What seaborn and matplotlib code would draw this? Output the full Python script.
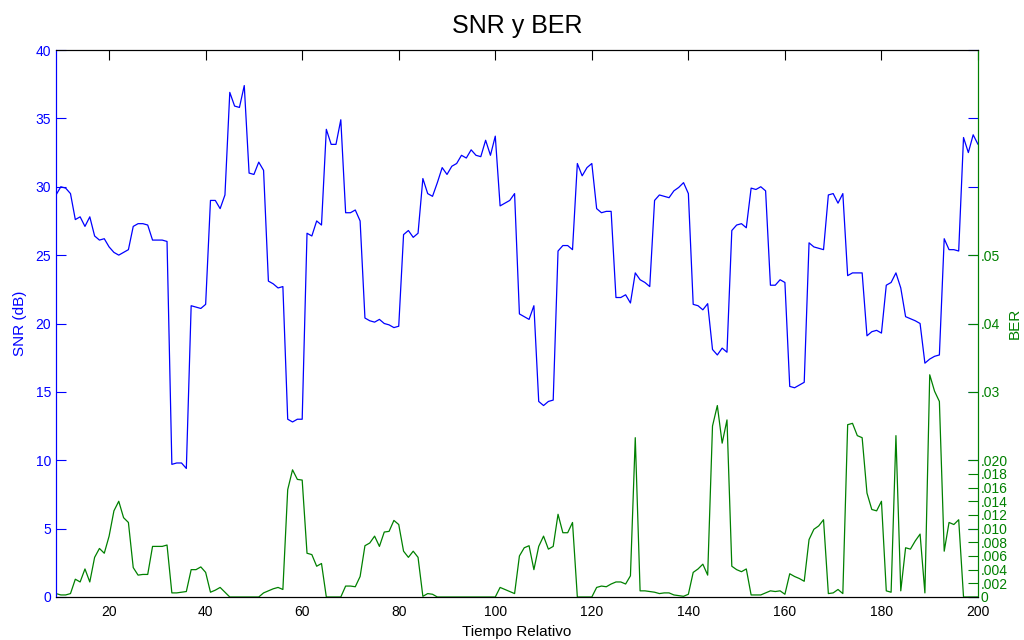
import seaborn as sns
import pandas as pd
import matplotlib
matplotlib.use('Agg')
import matplotlib.pyplot as plt
import numpy as np

# tiempo relativo (una muestra por unidad)
tiempo = list(range(9, 201))

snr_db = [
    29.4, 30.0, 29.9, 29.5, 27.6, 27.8, 27.1, 27.8, 26.4, 26.1, 26.2, 25.6,   # 9-20
    25.2, 25.0, 25.2, 25.4, 27.1, 27.3, 27.3, 27.2, 26.1, 26.1, 26.1, 26.0,   # 21-32
    9.7, 9.8, 9.8, 9.4, 21.3, 21.2, 21.1, 21.4, 29.0, 29.0, 28.4, 29.4,       # 33-44
    36.9, 35.9, 35.8, 37.4, 31.0, 30.9, 31.8, 31.2, 23.1, 22.9, 22.6, 22.7,   # 45-56
    13.0, 12.8, 13.0, 13.0, 26.6, 26.4, 27.5, 27.2, 34.2, 33.1, 33.1, 34.9,   # 57-68
    28.1, 28.1, 28.3, 27.5, 20.4, 20.2, 20.1, 20.3, 20.0, 19.9, 19.7, 19.8,   # 69-80
    26.5, 26.8, 26.3, 26.6, 30.6, 29.5, 29.3, 30.3, 31.4, 30.9, 31.5, 31.7,   # 81-92
    32.3, 32.1, 32.7, 32.3, 32.2, 33.4, 32.3, 33.7, 28.6, 28.8, 29.0, 29.5,   # 93-104
    20.7, 20.5, 20.3, 21.3, 14.3, 14.0, 14.3, 14.4, 25.3, 25.7, 25.7, 25.4,   # 105-116
    31.7, 30.8, 31.4, 31.7, 28.4, 28.1, 28.2, 28.2, 21.9, 21.9, 22.1, 21.5,   # 117-128
    23.7, 23.2, 23.0, 22.7, 29.0, 29.4, 29.3, 29.2, 29.7, 29.95, 30.3, 29.5,  # 129-140
    21.4, 21.3, 21.0, 21.45, 18.1, 17.7, 18.2, 17.9, 26.8, 27.2, 27.3, 27.0,  # 141-152
    29.9, 29.8, 30.0, 29.7, 22.8, 22.8, 23.2, 23.0, 15.4, 15.3, 15.5, 15.7,   # 153-164
    25.9, 25.6, 25.5, 25.4, 29.4, 29.5, 28.8, 29.5, 23.5, 23.7, 23.7, 23.7,   # 165-176
    19.1, 19.4, 19.5, 19.3, 22.8, 23.0, 23.7, 22.6, 20.5, 20.35, 20.2, 20.0,  # 177-188
    17.1, 17.4, 17.6, 17.7, 26.2, 25.4, 25.4, 25.3, 33.6, 32.5, 33.8, 33.1,   # 189-200
]

ber = [
    0.0005, 0.0003, 0.0003, 0.0005, 0.0026, 0.0022, 0.0041, 0.0022, 0.0058, 0.0071, 0.0064, 0.0089,
    0.0126, 0.0140, 0.0116, 0.0109, 0.0043, 0.0032, 0.0033, 0.0033, 0.0074, 0.0074, 0.0074, 0.0076,
    0.0006, 0.0006, 0.0007, 0.0008, 0.0040, 0.0040, 0.0044, 0.0036, 0.0007, 0.0010, 0.0014, 0.0007,
    0.0, 0.0, 0.0, 0.0, 0.0, 0.0, 0.0, 0.0006, 0.0009, 0.0012, 0.0014, 0.0011,
    0.0157, 0.0186, 0.0172, 0.0171, 0.0064, 0.0062, 0.0045, 0.0049, 0.0, 0.0, 0.0, 0.0,
    0.0016, 0.0016, 0.0015, 0.0030, 0.0075, 0.0079, 0.0089, 0.0074, 0.0095, 0.0096, 0.0112, 0.0106,
    0.0067, 0.0058, 0.0067, 0.0058, 0.0001, 0.0005, 0.0004, 0.0, 0.0, 0.0, 0.0, 0.0,
    0.0, 0.0, 0.0, 0.0, 0.0, 0.0, 0.0, 0.0, 0.0014, 0.0011, 0.0008, 0.0005,
    0.0060, 0.0072, 0.0075, 0.0040, 0.0074, 0.0089, 0.0070, 0.0074, 0.0121, 0.0094, 0.0094, 0.0109,
    0.0, 0.0, 0.0, 0.0, 0.0014, 0.0016, 0.0015, 0.0019, 0.0022, 0.0022, 0.0019, 0.0031,
    0.0233, 0.0009, 0.0009, 0.0008, 0.0007, 0.0005, 0.0006, 0.0006, 0.0003, 0.0002, 0.0001, 0.0004,
    0.0036, 0.0041, 0.0048, 0.0032, 0.0250, 0.0280, 0.0225, 0.0259, 0.0045, 0.0040, 0.0037, 0.0041,
    0.0003, 0.0003, 0.0003, 0.0006, 0.0009, 0.0008, 0.0009, 0.0004, 0.0034, 0.0030, 0.0027, 0.0023,
    0.0084, 0.0099, 0.0104, 0.0113, 0.0005, 0.0006, 0.0011, 0.0005, 0.0252, 0.0254, 0.0236, 0.0233,
    0.0152, 0.0128, 0.0126, 0.0140, 0.0009, 0.0007, 0.0236, 0.0009, 0.0072, 0.0070, 0.0082, 0.0092,
    0.0006, 0.0325, 0.0301, 0.0286, 0.0067, 0.0109, 0.0106, 0.0113, 0.0, 0.0, 0.0, 0.0,
]

snr_ticks = [0, 5, 10, 15, 20, 25, 30, 35, 40]
ber_ticks = [0, .002, .004, .006, .008, .010, .012, .014, .016, .018, .020, .03, .04, .05]
ber_labels = ['0', '.002', '.004', '.006', '.008', '.010', '.012', '.014', '.016', '.018',
              '.020', '.03', '.04', '.05']
x_ticks = [20, 40, 60, 80, 100, 120, 140, 160, 180, 200]

azul = '#0000ff'
verde = '#008000'

sns.set_style('white')
plt.rcParams['font.family'] = ['Liberation Sans', 'DejaVu Sans']

df = pd.DataFrame({'t': tiempo, 'snr': snr_db, 'ber': ber})

fig = plt.figure(figsize=(10.24, 6.4), dpi=100)
ax = fig.add_axes([56 / 1024, 1 - 597 / 640, (978 - 56) / 1024, (597 - 50) / 640])
ax2 = ax.twinx()

sns.lineplot(data=df, x='t', y='snr', ax=ax, color=azul, linewidth=0.9)
sns.lineplot(data=df, x='t', y='ber', ax=ax2, color=verde, linewidth=0.9)

ax.set_xlim(9, 200)
ax.set_ylim(0, 40)
ax2.set_ylim(0, 0.08)

ax.set_xticks(x_ticks)
ax.set_yticks(snr_ticks)
ax2.set_yticks(ber_ticks)
ax2.set_yticklabels(ber_labels)

ax.tick_params(axis='x', direction='in', top=True, length=7, colors='black', labelsize=10, pad=6)
ax.tick_params(axis='y', direction='in', right=True, length=7, colors=azul, labelsize=10)
ax2.tick_params(axis='y', direction='in', length=7, colors=verde, labelsize=10, pad=2)

for a in (ax, ax2):
    a.spines['top'].set_color('black')
    a.spines['bottom'].set_color('black')
    a.spines['left'].set_color(azul)
    a.spines['right'].set_color(verde)

ax.set_xlabel('Tiempo Relativo', fontsize=11, labelpad=4, color='black')
ax.set_ylabel('SNR (dB)', fontsize=11, color=azul, labelpad=6)
ax2.set_ylabel('BER', fontsize=11, color=verde, labelpad=0)
ax.set_title('SNR y BER', fontsize=18, pad=12, color='black')

fig.savefig('out.png', dpi=100)
